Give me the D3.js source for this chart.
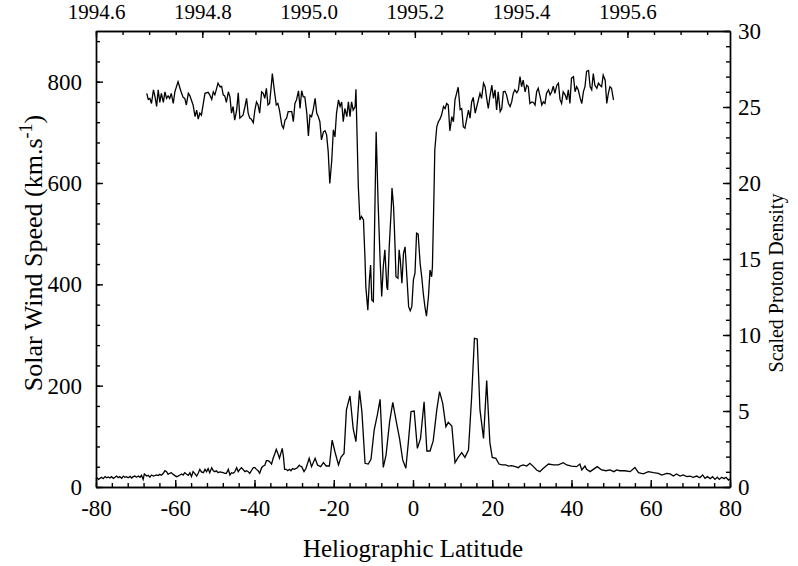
<!DOCTYPE html>
<html>
<head>
<meta charset="utf-8">
<script src="https://cdn.jsdelivr.net/npm/d3@7"></script>
<style>
  body { margin: 0; background: #fff; }
  svg text { font-family: "Liberation Serif", "Times New Roman", serif; fill: #000; }
  .axis path, .axis line { stroke: #000; stroke-width: 1.4; }
</style>
</head>
<body>
<div id="chart"></div>
<script>
// solar wind speed (km/s) against heliographic latitude
const speedLat = [-67.2,-66.8,-66.4,-66.0,-65.5,-65.1,-64.7,-64.3,-63.9,-63.5,-63.0,-62.6,-62.2,-61.8,-61.4,-61.0,-60.5,-60.1,-59.3,-58.8,
  -58.4,-58.0,-57.6,-57.2,-56.7,-56.3,-55.5,-55.0,-54.6,-54.2,-53.8,-53.4,-52.5,-51.7,-51.3,-50.8,-50.4,-50.0,-49.2,-48.7,
  -48.3,-47.9,-47.5,-47.1,-46.6,-46.2,-45.8,-45.4,-45.0,-44.5,-44.1,-43.7,-43.3,-42.9,-42.4,-42.0,-41.6,-41.2,-40.8,-40.3,
  -39.9,-39.5,-39.1,-38.7,-38.2,-37.8,-37.4,-37.0,-36.6,-36.2,-35.7,-35.5,-34.9,-34.5,-34.1,-33.7,-33.1,-32.7,-32.3,-31.9,
  -31.5,-30.6,-30.2,-29.8,-29.4,-28.9,-28.5,-28.1,-27.7,-27.3,-26.8,-26.4,-26.0,-25.6,-25.2,-24.7,-24.3,-23.9,-23.5,-23.1,
  -22.6,-22.2,-21.8,-21.4,-21.0,-20.5,-20.1,-19.7,-19.3,-18.8,-18.4,-18.0,-17.6,-17.2,-16.7,-16.3,-15.9,-15.5,-15.1,-14.6,
  -14.4,-13.8,-13.4,-13.0,-12.5,-12.1,-11.9,-11.4,-11.0,-10.7,-10.4,-10.0,-9.3,-8.8,-8.3,-7.9,-7.5,-7.1,-6.6,-6.4,
  -6.0,-5.5,-5.3,-4.9,-4.5,-4.3,-3.8,-3.5,-3.2,-2.8,-2.4,-2.0,-1.5,-1.1,-0.7,-0.3,0.1,0.5,0.9,1.3,
  1.8,2.2,2.6,3.0,3.4,3.9,4.3,4.7,4.9,5.3,5.5,6.0,6.4,6.8,7.2,7.7,8.1,8.5,8.9,9.3,
  9.8,10.2,10.6,11.0,11.4,11.9,12.3,12.7,13.1,13.5,14.0,14.4,14.8,15.2,15.7,16.1,16.5,16.9,17.3,17.8,
  18.2,18.6,19.0,19.4,19.9,20.3,20.7,21.1,21.5,22.0,22.4,22.8,23.2,23.6,24.1,24.5,24.9,25.3,25.7,26.2,
  26.6,27.0,27.4,27.8,28.3,28.7,29.1,29.5,30.0,30.4,30.8,31.2,31.6,32.1,32.5,32.9,33.3,33.7,34.2,34.6,
  35.0,35.4,35.8,36.3,36.7,37.1,37.5,37.9,38.4,38.8,39.2,39.6,40.0,40.5,40.9,41.3,41.7,42.2,42.6,43.0,
  43.4,43.8,44.3,44.7,45.1,45.5,45.9,46.4,46.8,47.2,47.6,48.0,48.5,48.9,49.3,49.7,50.1,50.6];
const speedVal = [777,765,767,757,784,770,751,784,759,777,759,780,767,772,767,777,757,780,800,787,
  777,769,767,754,777,772,754,731,744,726,738,734,777,779,774,765,780,774,797,790,
  791,774,772,759,780,770,738,751,724,744,778,728,731,734,751,767,738,728,726,719,
  744,760,754,738,780,777,767,787,754,757,797,816,777,754,757,744,714,708,724,728,
  741,741,721,757,764,782,747,782,770,770,738,693,734,731,744,767,738,731,721,685,
  701,703,695,662,599,645,705,691,738,764,751,760,721,747,731,760,731,760,744,751,
  785,593,527,534,527,448,395,349,409,438,369,366,701,560,448,376,435,468,395,389,
  474,547,590,553,468,415,412,468,448,402,461,474,409,356,348,356,409,422,501,499,
  441,415,382,356,337,376,428,415,435,580,665,711,721,726,734,751,747,757,754,703,
  731,721,764,777,789,745,747,711,708,724,744,728,760,769,738,751,764,777,767,797,
  790,767,747,770,793,767,784,744,780,741,747,780,781,774,757,751,760,777,784,778,
  784,810,790,803,780,793,790,757,760,759,754,780,787,770,754,760,757,777,784,774,
  780,791,777,793,797,765,757,780,774,764,784,757,807,810,780,790,784,767,757,780,
  790,820,822,790,784,816,793,787,797,793,790,813,803,757,777,790,787,764];

// scaled proton density against heliographic latitude
const densLat = [-80.0,-79.8,-79.4,-79.0,-78.6,-78.2,-77.7,-77.3,-76.9,-76.5,-76.1,-75.6,-75.2,-74.8,-74.4,-74.0,-73.5,-73.1,-72.7,-72.3,
  -71.9,-71.4,-71.0,-70.6,-70.2,-69.8,-69.3,-68.9,-68.5,-68.1,-67.8,-67.2,-66.8,-66.4,-66.0,-65.5,-64.7,-64.3,-63.9,-63.5,
  -63.0,-62.6,-62.2,-61.8,-61.4,-61.0,-60.5,-60.1,-59.7,-59.3,-58.8,-58.4,-58.0,-57.6,-57.2,-56.7,-56.3,-55.9,-55.5,-55.0,
  -54.6,-54.2,-53.8,-53.4,-52.9,-52.5,-52.1,-51.7,-51.3,-50.8,-50.4,-50.0,-49.6,-49.2,-48.7,-47.9,-47.5,-47.1,-46.6,-46.2,
  -45.8,-45.4,-45.0,-44.5,-44.1,-43.7,-43.3,-42.9,-42.4,-42.0,-41.6,-41.2,-40.8,-40.3,-39.9,-39.5,-39.1,-38.7,-38.2,-37.8,
  -37.4,-37.0,-36.6,-36.2,-35.7,-35.3,-34.9,-34.5,-34.1,-33.7,-33.3,-33.0,-32.7,-32.4,-32.0,-31.6,-31.2,-30.8,-30.4,-30.0,
  -29.6,-29.2,-28.7,-28.5,-28.1,-27.5,-27.0,-26.2,-25.6,-24.7,-24.1,-23.3,-22.6,-21.9,-21.1,-20.4,-19.7,-18.8,-18.2,-17.4,
  -16.8,-15.9,-15.1,-14.4,-13.5,-12.9,-12.1,-11.3,-10.6,-9.8,-9.0,-8.3,-7.5,-6.8,-5.9,-5.1,-4.3,-3.4,-2.6,-1.8,
  -1.2,-0.5,0.3,1.1,1.9,2.8,3.5,4.3,5.1,6.0,6.7,7.5,8.3,8.9,9.8,10.6,11.4,12.3,13.1,14.0,
  14.8,15.5,16.2,16.9,17.8,18.6,19.4,20.0,20.9,21.7,22.5,23.4,24.1,24.9,25.8,26.6,27.0,27.8,28.7,29.5,
  30.4,31.2,32.0,32.9,34.2,35.4,36.7,37.9,38.8,40.0,41.3,42.1,42.6,43.4,43.8,44.7,45.5,46.5,47.6,48.7,
  49.7,50.7,51.4,52.2,53.5,54.8,56.0,56.9,58.1,59.4,60.7,61.9,62.8,64.0,64.9,65.7,66.5,67.4,68.2,69.1,
  69.9,70.7,71.6,72.4,73.1,73.7,74.3,75.0,75.6,76.2,76.8,77.3,77.9,78.5,79.0,79.6,80.0];
const densVal = [0.50,0.61,0.50,0.57,0.64,0.55,0.68,0.61,0.66,0.59,0.68,0.57,0.64,0.72,0.61,0.68,0.57,0.72,0.64,0.68,
  0.61,0.70,0.59,0.68,0.72,0.64,0.72,0.64,0.77,0.50,0.86,0.72,0.77,0.64,0.79,0.72,0.79,0.75,0.83,0.77,
  0.90,1.07,1.01,0.83,0.90,0.94,0.83,0.75,0.68,0.72,0.79,0.86,0.79,0.94,0.86,0.77,0.94,0.68,1.01,0.86,
  0.72,0.90,1.16,0.99,0.94,1.16,1.01,1.21,0.94,1.27,1.07,1.01,1.07,0.94,0.99,0.94,0.90,0.90,1.16,0.79,
  0.94,0.90,0.99,1.27,1.01,1.16,1.27,1.16,1.01,1.07,1.01,0.90,1.07,1.27,1.27,1.16,1.07,0.90,1.27,1.38,
  1.43,1.73,1.73,1.67,1.51,1.89,2.17,2.48,2.21,1.89,2.26,2.54,2.00,1.16,1.16,1.07,1.16,1.07,1.21,1.16,
  1.21,1.27,1.43,1.38,1.34,1.01,1.23,1.89,1.34,1.89,1.45,1.34,1.60,1.38,1.38,3.09,2.32,1.45,1.95,2.21,
  5.07,5.99,3.86,2.98,6.34,4.96,1.56,1.51,1.82,3.75,4.74,5.77,1.29,2.11,4.30,5.57,4.41,3.20,1.78,1.23,
  2.87,4.96,5.00,2.54,3.20,5.61,2.37,2.37,3.03,5.07,6.27,5.50,3.97,4.25,4.01,1.60,1.95,2.26,1.95,2.43,
  5.94,9.78,9.74,5.07,3.20,7.00,2.92,1.95,1.89,1.51,1.45,1.45,1.38,1.41,1.34,1.27,1.38,1.45,1.38,1.56,
  1.34,1.12,1.01,1.23,1.51,1.45,1.45,1.60,1.45,1.38,1.34,1.51,1.12,1.38,1.16,1.01,1.16,1.34,1.12,1.07,
  1.12,1.01,1.12,1.07,1.07,1.01,1.29,0.94,0.86,1.01,0.94,0.90,0.79,0.90,0.86,0.72,0.86,0.72,0.79,0.68,
  0.72,0.64,0.72,0.61,0.79,0.57,0.68,0.55,0.68,0.50,0.64,0.50,0.64,0.55,0.64,0.46,0.55];

// tick labels
const latTicks = [-80, -60, -40, -20, 0, 20, 40, 60, 80];
const yearTicks = [1994.6, 1994.8, 1995.0, 1995.2, 1995.4, 1995.6];
const speedTicks = [0, 200, 400, 600, 800];
const densTicks = [0, 5, 10, 15, 20, 25, 30];

var margin = { top: 31, right: 68, bottom: 79, left: 96 },
    width = 798 - margin.left - margin.right,
    height = 566 - margin.top - margin.bottom;

var svg = d3.select("#chart")
    .append("svg")
    .attr("width", 798)
    .attr("height", 566)
    .append("g")
    .attr("transform", "translate(" + margin.left + "," + margin.top + ")");

var x = d3.scaleLinear().domain([-80, 80]).range([0, width]);
var xTop = d3.scaleLinear().domain([1994.6, 1995.793]).range([0, width]);
var y = d3.scaleLinear().domain([0, 900]).range([height, 0]);
var yR = d3.scaleLinear().domain([0, 30]).range([height, 0]);

// minor ticks first, then major ticks with labels
function minor(axis, vals) {
    return axis.tickValues(vals).tickFormat("").tickSizeOuter(0);
}

svg.append("g").attr("class", "axis")
    .attr("transform", "translate(0," + height + ")")
    .call(minor(d3.axisBottom(x).tickSizeInner(-4), d3.range(-80, 81, 4)));
var bx = svg.append("g").attr("class", "axis")
    .attr("transform", "translate(0," + height + ")")
    .call(d3.axisBottom(x).tickValues(latTicks).tickSizeInner(-7).tickSizeOuter(0).tickPadding(13)
        .tickFormat(d => String(d)));

svg.append("g").attr("class", "axis")
    .call(minor(d3.axisTop(xTop).tickSizeInner(-4), d3.range(0, 24).map(i => 1994.6 + i * 0.05)));
var tx = svg.append("g").attr("class", "axis")
    .call(d3.axisTop(xTop).tickValues(yearTicks).tickSizeInner(-7).tickSizeOuter(0).tickPadding(12)
        .tickFormat(d3.format(".1f")));

svg.append("g").attr("class", "axis")
    .call(minor(d3.axisLeft(y).tickSizeInner(-4), d3.range(0, 900, 40)));
var ly = svg.append("g").attr("class", "axis")
    .call(d3.axisLeft(y).tickValues(speedTicks).tickSizeInner(-7).tickSizeOuter(0).tickPadding(14));

svg.append("g").attr("class", "axis")
    .attr("transform", "translate(" + width + ",0)")
    .call(minor(d3.axisRight(yR).tickSizeInner(-4), d3.range(0, 31, 1)));
var ry = svg.append("g").attr("class", "axis")
    .attr("transform", "translate(" + width + ",0)")
    .call(d3.axisRight(yR).tickValues(densTicks).tickSizeInner(-7).tickSizeOuter(0).tickPadding(8));

bx.selectAll("text").style("font-size", "23px");
ly.selectAll("text").style("font-size", "23px");
ry.selectAll("text").style("font-size", "23px");
tx.selectAll("text").style("font-size", "21px");

// axis titles
svg.append("text")
    .attr("x", width / 2)
    .attr("y", height + 70)
    .attr("text-anchor", "middle")
    .style("font-size", "25px")
    .text("Heliographic Latitude");

var lt = svg.append("text")
    .attr("transform", "translate(-54," + (height / 2 - 6) + ") rotate(-90)")
    .attr("text-anchor", "middle")
    .style("font-size", "26px");
lt.append("tspan").text("Solar Wind Speed (km.s");
lt.append("tspan").attr("dy", -10).style("font-size", "18px").text("-1");
lt.append("tspan").attr("dy", 10).text(")");

svg.append("text")
    .attr("transform", "translate(" + (width + 53) + "," + (height / 2 + 24) + ") rotate(-90)")
    .attr("text-anchor", "middle")
    .style("font-size", "20px")
    .text("Scaled Proton Density");

// data lines
var speedLine = d3.line().x((d, i) => x(speedLat[i])).y(d => y(d));
var densLine = d3.line().x((d, i) => x(densLat[i])).y(d => yR(d));

svg.append("path")
    .datum(speedVal)
    .attr("d", speedLine)
    .attr("fill", "none")
    .attr("stroke", "#000")
    .attr("stroke-width", 1.3);

svg.append("path")
    .datum(densVal)
    .attr("d", densLine)
    .attr("fill", "none")
    .attr("stroke", "#000")
    .attr("stroke-width", 1.3);
</script>
</body>
</html>
